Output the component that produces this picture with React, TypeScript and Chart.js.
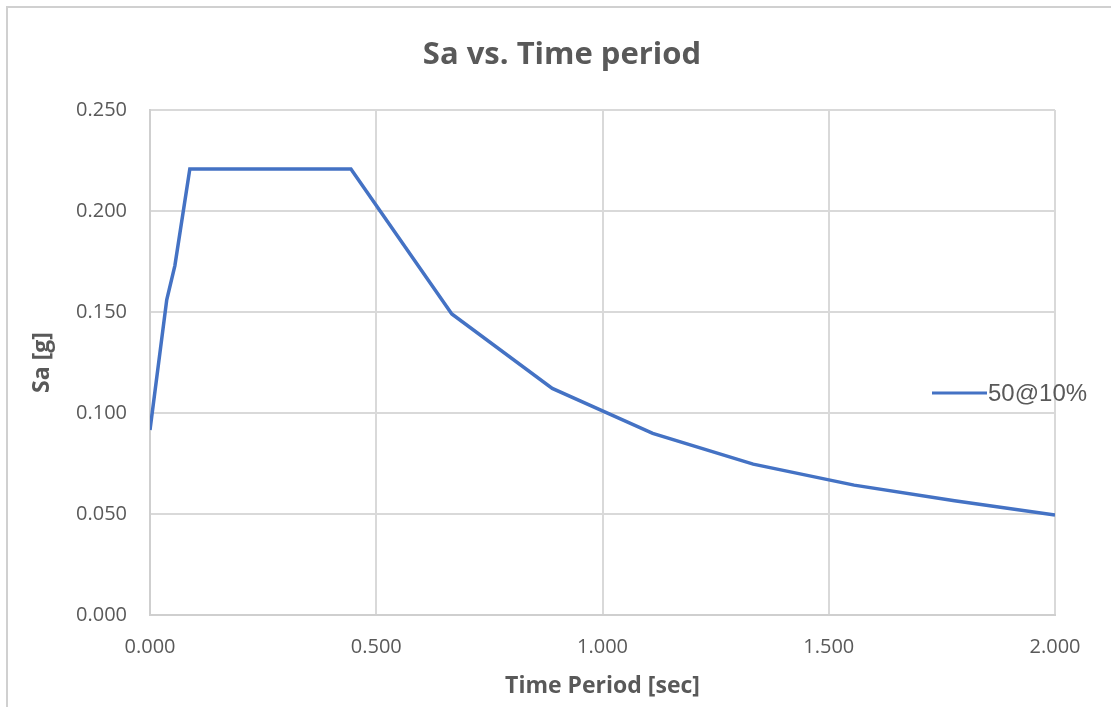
import React, { useEffect, useRef } from "react";
import { Chart, registerables } from "chart.js";

Chart.register(...registerables);

// ---- data ----
const periods = [0, 0.037, 0.055, 0.088, 0.444, 0.667, 0.889, 1.111, 1.333, 1.556, 1.778, 2.0];
const saValues = [0.0916, 0.156, 0.173, 0.2208, 0.2208, 0.149, 0.1122, 0.0899, 0.0747, 0.0643, 0.0566, 0.0495];
const seriesLabel = "50@10%";
const xTicks = [0, 0.5, 1.0, 1.5, 2.0];
const yTicks = [0, 0.05, 0.1, 0.15, 0.2, 0.25];
const chartTitle = "Sa vs. Time period";
const xTitle = "Time Period [sec]";
const yTitle = "Sa [g]";

const TEXT = "#595959";
const GRID = "#D9D9D9";
const LINE = "#4472C4";

const framePlugin = {
  id: "frame",
  beforeDraw(chart: any) {
    const { ctx, width, height } = chart;
    ctx.save();
    ctx.fillStyle = "#ffffff";
    ctx.fillRect(0, 0, width, height);
    ctx.strokeStyle = "#D0D0D0";
    ctx.lineWidth = 2;
    ctx.strokeRect(7, 7, width + 20, height + 20);
    ctx.restore();
  },
};

const titlePlugin = {
  id: "excelTitle",
  afterDraw(chart: any) {
    const { ctx } = chart;
    ctx.save();
    ctx.fillStyle = TEXT;
    ctx.font = "bold 31px 'Open Sans', sans-serif";
    ctx.textAlign = "center";
    ctx.textBaseline = "alphabetic";
    ctx.fillText(chartTitle, 562, 64);
    ctx.restore();
  },
};

const legendPlugin = {
  id: "sideLegend",
  afterDraw(chart: any) {
    const { ctx } = chart;
    const ds = chart.data.datasets[0];
    const y = 393;
    ctx.save();
    ctx.strokeStyle = ds.borderColor;
    ctx.lineWidth = 3;
    ctx.beginPath();
    ctx.moveTo(932, y);
    ctx.lineTo(987, y);
    ctx.stroke();
    ctx.fillStyle = TEXT;
    ctx.font = "24px 'Liberation Sans', Arial, sans-serif";
    ctx.textAlign = "left";
    ctx.textBaseline = "middle";
    ctx.fillText(ds.label, 988, y + 1);
    ctx.restore();
  },
};

export default function App() {
  const ref = useRef<HTMLCanvasElement | null>(null);

  useEffect(() => {
    if (!ref.current) return;
    const tickFont = { family: "'Open Sans', sans-serif", size: 20 };
    const titleFont = { family: "'Open Sans', sans-serif", size: 23, weight: "bold" as const };
    const chart = new Chart(ref.current, {
      type: "line",
      data: {
        datasets: [
          {
            label: seriesLabel,
            data: periods.map((t, i) => ({ x: t, y: saValues[i] })),
            borderColor: LINE,
            backgroundColor: LINE,
            borderWidth: 3.5,
            pointRadius: 0,
            tension: 0,
            fill: false,
          },
        ],
      },
      options: {
        responsive: false,
        animation: false,
        layout: { padding: { left: 0, right: 56, top: 110, bottom: 0 } },
        plugins: {
          legend: { display: false },
          tooltip: { enabled: false },
          title: { display: false },
        },
        scales: {
          x: {
            type: "linear",
            min: 0,
            max: 2,
            afterBuildTicks: (s: any) => {
              s.ticks = xTicks.map((v) => ({ value: v }));
            },
            afterFit: (s: any) => {
              s.height = 92;
            },
            ticks: {
              color: TEXT,
              font: tickFont,
              padding: 20,
              callback: (v: any) => Number(v).toFixed(3),
            },
            grid: { color: GRID, lineWidth: 2, drawTicks: false },
            border: { color: "#CFCFCF", width: 2 },
            title: {
              display: true,
              text: xTitle,
              color: TEXT,
              font: titleFont,
              padding: { top: 0, bottom: 7 },
            },
          },
          y: {
            type: "linear",
            min: 0,
            max: 0.25,
            afterBuildTicks: (s: any) => {
              s.ticks = yTicks.map((v) => ({ value: v }));
            },
            afterFit: (s: any) => {
              s.width = 150;
            },
            ticks: {
              color: TEXT,
              font: tickFont,
              padding: 23,
              callback: (v: any) => Number(v).toFixed(3),
            },
            grid: { color: GRID, lineWidth: 2, drawTicks: false },
            border: { color: "#CFCFCF", width: 2 },
            title: {
              display: true,
              text: yTitle,
              color: TEXT,
              font: titleFont,
              padding: { top: 29, bottom: 0 },
            },
          },
        },
      },
      plugins: [framePlugin, titlePlugin, legendPlugin],
    });
    return () => chart.destroy();
  }, []);

  return (
    <div style={{ position: "fixed", left: 0, top: 0, width: 1111, height: 707, overflow: "hidden", background: "#fff" }}>
      <canvas ref={ref} width={1111} height={707} style={{ display: "block" }} />
    </div>
  );
}
